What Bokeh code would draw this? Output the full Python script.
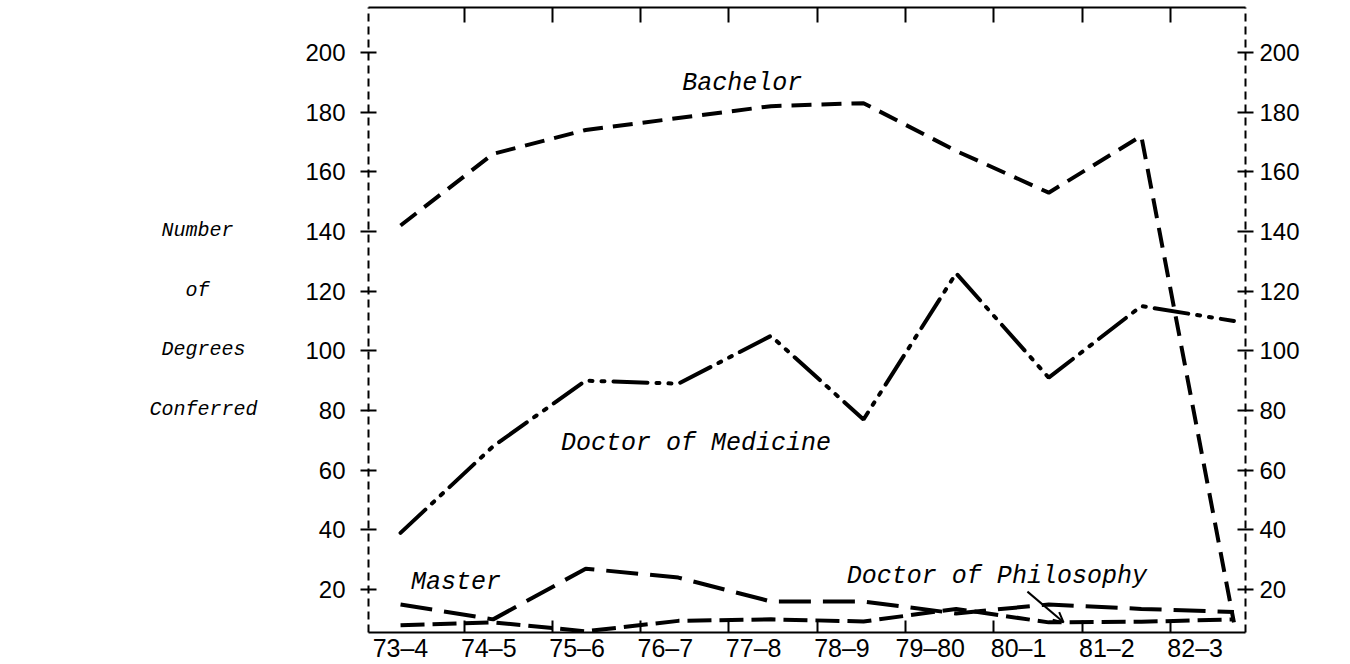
from bokeh.plotting import figure
from bokeh.models import Range1d, LinearAxis, FixedTicker, Label, Arrow, OpenHead, ColumnDataSource
from bokeh.embed import file_html
from bokeh.resources import INLINE

# ---- data ----
years = ["73–4", "74–5", "75–6", "76–7", "77–8", "78–9", "79–80", "80–1", "81–2", "82–3"]
bachelor = [142, 166, 174, 178, 182, 183, 167, 153, 172, 9]
medicine = [39, 68, 90, 89, 105, 77, 126, 91, 115, 110]
master = [15, 10, 27, 24, 16, 16, 12, 15, 13.5, 12.5]
phd = [8, 9, 6, 9.5, 10, 9.3, 13.5, 9, 9.2, 10]
y_ticks = [20, 40, 60, 80, 100, 120, 140, 160, 180, 200]
y_title_lines = ["Number", "of", "Degrees", "Conferred"]

NB = "\u00a0"
# pad with no-break spaces so that the right-aligned monospace lines appear centred
y_title = "\n".join([y_title_lines[0] + NB * 2, y_title_lines[1] + NB * 4,
                     y_title_lines[2] + NB, y_title_lines[3]])

idx = list(range(len(years)))
src = ColumnDataSource(dict(x=idx, bachelor=bachelor, medicine=medicine, master=master, phd=phd))

p = figure(width=1340, height=664,
           x_range=Range1d(-0.346, 9.125), y_range=Range1d(5.6, 215.06),
           output_backend="svg", toolbar_location=None,
           x_axis_location=None, y_axis_location=None,
           min_border_left=368, min_border_right=95, min_border_top=7, min_border_bottom=10,
           outline_line_color=None, background_fill_color="white", border_fill_color="white")
p.xgrid.grid_line_color = None
p.ygrid.grid_line_color = None
p.extra_x_ranges = {"lab": Range1d(-0.362, 9.57)}

TICKFONT = "Liberation Sans"
LFONT = "Liberation Mono"
xt = FixedTicker(ticks=idx, minor_ticks=[i + 0.72 for i in idx[:-1]])

bottom = LinearAxis(x_range_name="lab", ticker=xt,
                    major_label_overrides={i: years[i] for i in idx},
                    major_tick_in=0, major_tick_out=0,
                    minor_tick_in=12, minor_tick_out=0, minor_tick_line_width=2,
                    axis_line_width=2, major_label_standoff=1,
                    major_label_text_font=TICKFONT, major_label_text_font_size="25px",
                    major_label_text_color="black")
p.add_layout(bottom, "below")

top = LinearAxis(x_range_name="lab", ticker=xt,
                 major_tick_in=0, major_tick_out=0,
                 minor_tick_in=15, minor_tick_out=0, minor_tick_line_width=2,
                 axis_line_width=2, major_label_standoff=0,
                 major_label_text_font_size="0px", major_label_text_alpha=0)
p.add_layout(top, "above")

yt = FixedTicker(ticks=y_ticks, minor_ticks=[])
for side, standoff in (("left", 15), ("right", 6)):
    ax = LinearAxis(ticker=yt, axis_line_dash="8 5", axis_line_width=2,
                    major_tick_in=8, major_tick_out=8, major_tick_line_width=2,
                    minor_tick_in=0, minor_tick_out=0,
                    major_label_standoff=standoff,
                    major_label_text_font=TICKFONT, major_label_text_font_size="24px",
                    major_label_text_color="black")
    if side == "left":
        ax.axis_label = y_title
        ax.axis_label_orientation = "horizontal"
        ax.axis_label_standoff = 45
        ax.axis_label_text_font = LFONT
        ax.axis_label_text_font_style = "italic"
        ax.axis_label_text_font_size = "20px"
        ax.axis_label_text_line_height = 2.6
        ax.axis_label_text_color = "black"
    p.add_layout(ax, side)

# ---- series ----
p.line("x", "bachelor", source=src, line_color="black", line_width=4, line_dash="20 10")
p.line("x", "master", source=src, line_color="black", line_width=4, line_dash="32 12")
p.line("x", "phd", source=src, line_color="black", line_width=4, line_dash="24 8")
p.line("x", "medicine", source=src, line_color="black", line_width=4,
       line_dash="34 9 3 9 3 9", line_cap="round")

# ---- annotations ----
def lab(x, y, t, size="25px", align="center"):
    p.add_layout(Label(x=x, y=y, text=t, text_font=LFONT, text_font_style="italic",
                       text_font_size=size, text_align=align, text_baseline="middle",
                       text_color="black"))

lab(3.69, 189.6, "Bachelor")
lab(3.19, 69.0, "Doctor of Medicine")
lab(0.6, 22.3, "Master")
lab(6.44, 24.3, "Doctor of Philosophy")

p.add_layout(Arrow(x_start=6.77, y_start=19.3, x_end=7.16, y_end=9.0,
                   line_color="black", line_width=2,
                   end=OpenHead(size=10, line_color="black", line_width=2)))

open("out.html", "w").write(file_html(p, INLINE))
